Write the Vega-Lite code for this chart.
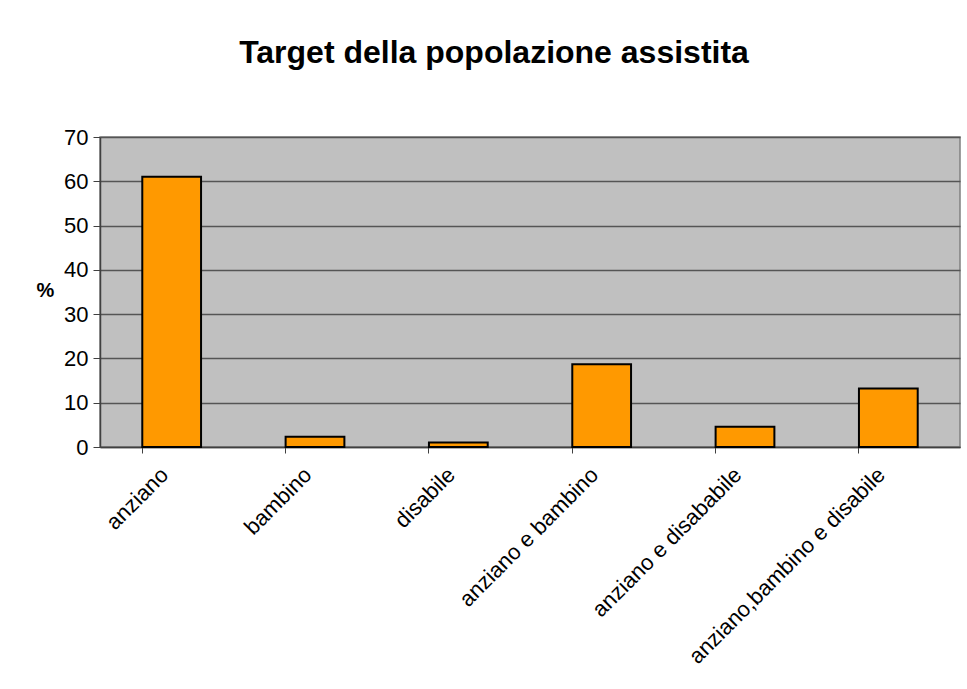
{
  "$schema": "https://vega.github.io/schema/vega-lite/v6.json",
  "autosize": "none",
  "width": 860,
  "height": 310,
  "padding": {"left": 100, "top": 137, "right": 7, "bottom": 242},
  "background": "white",
  "config": {
    "font": "Liberation Sans",
    "view": {"fill": "#C0C0C0", "stroke": "#808080", "strokeWidth": 1.5}
  },
  "title": {
    "text": "Target della popolazione assistita",
    "fontSize": 32,
    "fontWeight": "bold",
    "font": "Liberation Sans",
    "color": "black",
    "anchor": "middle",
    "frame": "group",
    "dx": -36,
    "offset": 56
  },
  "data": {
    "values": [
      {"categoria": "anziano", "valore": 61.0},
      {"categoria": "bambino", "valore": 2.3},
      {"categoria": "disabile", "valore": 1.0},
      {"categoria": "anziano e bambino", "valore": 18.7},
      {"categoria": "anziano e disababile", "valore": 4.6},
      {"categoria": "anziano,bambino e disabile", "valore": 13.2}
    ]
  },
  "mark": {"type": "bar", "color": "#FF9900", "stroke": "black", "strokeWidth": 2},
  "encoding": {
    "x": {
      "field": "categoria",
      "type": "nominal",
      "sort": null,
      "scale": {"paddingInner": 0.59, "paddingOuter": 0.295},
      "axis": {
        "title": null,
        "labelAngle": -45,
        "labelAlign": "right",
        "labelBaseline": "middle",
        "labelFontSize": 22,
        "labelColor": "black",
        "labelPadding": 18,
        "labelOffset": -7,
        "labelLimit": 400,
        "labelOverlap": false,
        "bandPosition": 0,
        "ticks": true,
        "tickSize": 6,
        "tickColor": "#404040",
        "domainColor": "#404040",
        "domainWidth": 1.5,
        "grid": false
      }
    },
    "y": {
      "field": "valore",
      "type": "quantitative",
      "scale": {"domain": [0, 70], "nice": false},
      "axis": {
        "title": "%",
        "titleAngle": 0,
        "titleX": -55,
        "titleY": 153,
        "titleAlign": "center",
        "titleBaseline": "middle",
        "titleFontSize": 20,
        "titleFontWeight": "bold",
        "titleColor": "black",
        "values": [0, 10, 20, 30, 40, 50, 60, 70],
        "labelFontSize": 22,
        "labelColor": "black",
        "labelPadding": 5,
        "tickSize": 7,
        "tickColor": "#404040",
        "domainColor": "#404040",
        "domainWidth": 1.5,
        "grid": true,
        "gridColor": "#555555",
        "gridWidth": 1.5,
        "gridOpacity": 1
      }
    }
  }
}
